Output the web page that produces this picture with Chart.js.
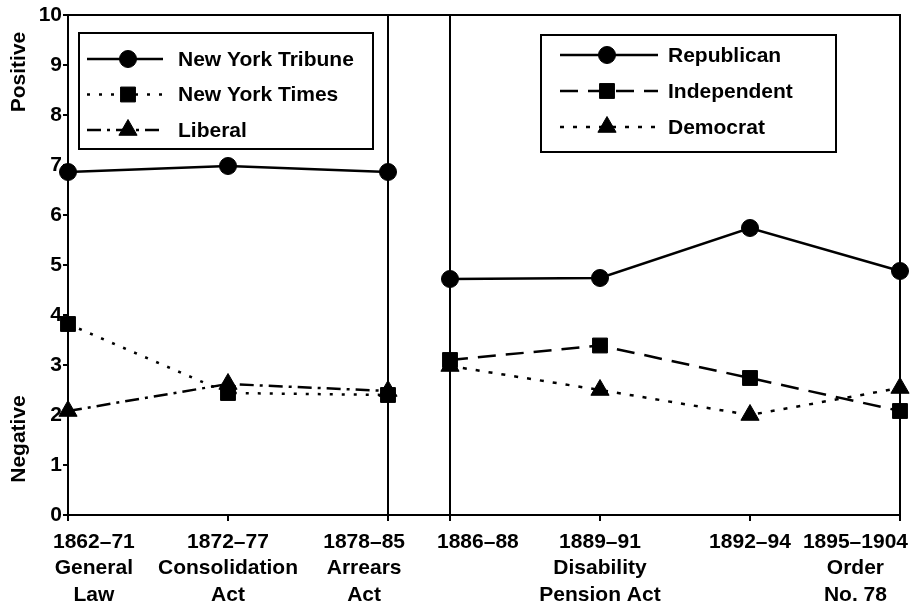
<!DOCTYPE html>
<html><head><meta charset="utf-8">
<script src="https://cdn.jsdelivr.net/npm/chart.js@4.4.0/dist/chart.umd.min.js"></script>
<style>
html,body{margin:0;padding:0;background:#fff;overflow:hidden;}
#wrap{position:relative;width:914px;height:610px;background:#fff;}
#frame{position:absolute;left:67px;top:14px;width:834px;height:502px;box-sizing:border-box;border:2px solid #000;}
#cA{position:absolute;left:0;top:0;}
#cB{position:absolute;left:400px;top:0;}
</style></head><body>
<div id="wrap">
<div id="frame"></div>
<canvas id="cA" width="440" height="610"></canvas>
<canvas id="cB" width="514" height="610"></canvas>
</div>
<script>
// ---- data ----
const leftCategories = [['1862–71','General','Law'], ['1872–77','Consolidation','Act'], ['1878–85','Arrears','Act']];
const rightCategories = [['1886–88'], ['1889–91','Disability','Pension Act'], ['1892–94'], ['1895–1904','Order','No. 78']];
const yTicks = [0,1,2,3,4,5,6,7,8,9,10];
const tribune = [6.86, 6.98, 6.86];
const times = [3.82, 2.44, 2.40];
const liberal = [2.08, 2.62, 2.48];
const republican = [4.72, 4.74, 5.74, 4.88];
const independent = [3.10, 3.39, 2.74, 2.08];
const democrat = [2.98, 2.50, 2.00, 2.54];

const FONT = '"Liberation Sans", Arial, Helvetica, sans-serif';
const BLACK = '#000';

function ds(label, data, style, radius, dash) {
  return {label, data, borderColor: BLACK, backgroundColor: BLACK, borderWidth: 2.5,
    borderDash: dash, pointStyle: style, pointRadius: radius, pointBackgroundColor: BLACK,
    pointBorderColor: BLACK, pointBorderWidth: 1, tension: 0, clip: false, fill: false};
}

function drawMarker(ctx, style, r, x, y) {
  if (Chart.helpers && Chart.helpers.drawPoint) {
    Chart.helpers.drawPoint(ctx, {pointStyle: style, radius: r, rotation: 0, borderWidth: 1}, x, y);
    return;
  }
  ctx.beginPath();
  if (style === 'circle') ctx.arc(x, y, r, 0, Math.PI * 2);
  else if (style === 'rect') { const s = r * Math.SQRT1_2; ctx.rect(x - s, y - s, 2 * s, 2 * s); }
  else { ctx.moveTo(x, y - r); ctx.lineTo(x + r * 0.866, y + r / 2); ctx.lineTo(x - r * 0.866, y + r / 2); ctx.closePath(); }
  ctx.fill(); ctx.stroke();
}

const xLabelPlugin = {
  id: 'xLabels',
  afterDraw(chart, args, o) {
    const ctx = chart.ctx, xs = chart.scales.x, area = chart.chartArea;
    ctx.save();
    ctx.font = 'bold 21px ' + FONT;
    ctx.fillStyle = BLACK; ctx.textAlign = 'center'; ctx.textBaseline = 'middle';
    chart.data.labels.forEach((lines, i) => {
      const px = xs.getPixelForTick(i);
      const w = Math.max(...lines.map(l => ctx.measureText(l).width));
      let cx = Math.max(px, area.left - o.slackLeft + w / 2);
      cx = Math.min(cx, area.right + o.slackRight - w / 2);
      lines.forEach((l, j) => ctx.fillText(l, cx, area.bottom + o.firstLine + j * o.lineHeight));
    });
    ctx.restore();
  }
};

const boxLegendPlugin = {
  id: 'boxLegend',
  afterDraw(chart, args, o) {
    const ctx = chart.ctx, area = chart.chartArea;
    const bx = area.left + o.dx, by = area.top + o.dy;
    ctx.save();
    ctx.fillStyle = '#fff';
    ctx.fillRect(bx, by, o.w, o.h);
    ctx.lineWidth = 2; ctx.strokeStyle = BLACK;
    ctx.strokeRect(bx, by, o.w, o.h);
    chart.data.datasets.forEach((d, i) => {
      const y = by + o.row0 + i * o.rowGap;
      ctx.strokeStyle = BLACK; ctx.lineWidth = 2.5;
      ctx.setLineDash(d.borderDash || []);
      ctx.beginPath(); ctx.moveTo(bx + o.lineStart, y); ctx.lineTo(bx + o.lineEnd, y); ctx.stroke();
      ctx.setLineDash([]);
      ctx.fillStyle = BLACK; ctx.lineWidth = 1;
      drawMarker(ctx, d.pointStyle, d.pointRadius, bx + o.marker, y);
      ctx.fillStyle = BLACK;
      ctx.font = 'bold 21px ' + FONT;
      ctx.textAlign = 'left'; ctx.textBaseline = 'middle';
      ctx.fillText(d.label, bx + o.text, y + 1);
    });
    ctx.restore();
  }
};

const panelEdgePlugin = {
  id: 'panelEdge',
  beforeDatasetsDraw(chart, args, o) {
    const ctx = chart.ctx, a = chart.chartArea;
    const x = o.side === 'right' ? a.right : a.left;
    ctx.save();
    ctx.strokeStyle = BLACK; ctx.lineWidth = 2;
    ctx.beginPath(); ctx.moveTo(x, a.top); ctx.lineTo(x, a.bottom); ctx.stroke();
    ctx.restore();
  }
};

const sideTitlesPlugin = {
  id: 'sideTitles',
  afterDraw(chart, args, o) {
    if (!o.items) return;
    const ctx = chart.ctx, ys = chart.scales.y;
    ctx.save();
    ctx.font = 'bold 21px ' + FONT;
    ctx.fillStyle = BLACK; ctx.textAlign = 'center'; ctx.textBaseline = 'middle';
    o.items.forEach(it => {
      ctx.save();
      ctx.translate(o.x, ys.getPixelForValue(it.at));
      ctx.rotate(-Math.PI / 2);
      ctx.fillText(it.text, 0, 0);
      ctx.restore();
    });
    ctx.restore();
  }
};

function makeOptions(showY, pad, legendOpts, edgeSide, labelOpts, titles) {
  return {
    responsive: false, animation: false, devicePixelRatio: 1,
    layout: {padding: pad},
    plugins: {
      legend: {display: false}, tooltip: {enabled: false},
      boxLegend: legendOpts, panelEdge: {side: edgeSide}, xLabels: labelOpts, sideTitles: titles
    },
    scales: {
      x: {type: 'category', offset: false, border: {display: false},
        grid: {drawOnChartArea: false, drawTicks: true, tickLength: 6, color: BLACK, lineWidth: 2},
        ticks: {display: false},
        afterFit(s) { s.height = 95; }},
      y: {display: showY, min: 0, max: 10, border: {display: false},
        afterBuildTicks(s) { s.ticks = yTicks.map(v => ({value: v})); },
        grid: {drawOnChartArea: false, drawTicks: true, tickLength: 5, color: BLACK, lineWidth: 2},
        ticks: {color: BLACK, padding: 1, font: {family: FONT, size: 21, weight: 'bold'}},
        afterFit(s) { s.width = showY ? 68 : 0; }}
    }
  };
}

const plugins = [panelEdgePlugin, xLabelPlugin, boxLegendPlugin, sideTitlesPlugin];

new Chart(document.getElementById('cA'), {
  type: 'line',
  data: {labels: leftCategories, datasets: [
    ds('New York Tribune', tribune, 'circle', 8.5, []),
    ds('New York Times', times, 'rect', 10.5, [3, 9]),
    ds('Liberal', liberal, 'triangle', 10.5, [14, 6, 3, 6])
  ]},
  options: makeOptions(true, {left: 0, top: 15, right: 52, bottom: 0},
    {dx: 11, dy: 18, w: 294, h: 116, row0: 26, rowGap: 35.5, lineStart: 8, lineEnd: 84, marker: 49, text: 99},
    'right', {slackLeft: 15, slackRight: 17, firstLine: 27, lineHeight: 26.5},
    {x: 19, items: [{text: 'Positive', at: 8.86}, {text: 'Negative', at: 1.52}]}),
  plugins
});

new Chart(document.getElementById('cB'), {
  type: 'line',
  data: {labels: rightCategories, datasets: [
    ds('Republican', republican, 'circle', 8.5, []),
    ds('Independent', independent, 'rect', 10.5, [18, 10]),
    ds('Democrat', democrat, 'triangle', 10.5, [4, 9])
  ]},
  options: makeOptions(false, {left: 50, top: 15, right: 14, bottom: 0},
    {dx: 91, dy: 20, w: 295, h: 117, row0: 20, rowGap: 36, lineStart: 19, lineEnd: 117, marker: 66, text: 127},
    'left', {slackLeft: 13, slackRight: 8, firstLine: 27, lineHeight: 26.5},
    {}),
  plugins
});
</script>
</body></html>
